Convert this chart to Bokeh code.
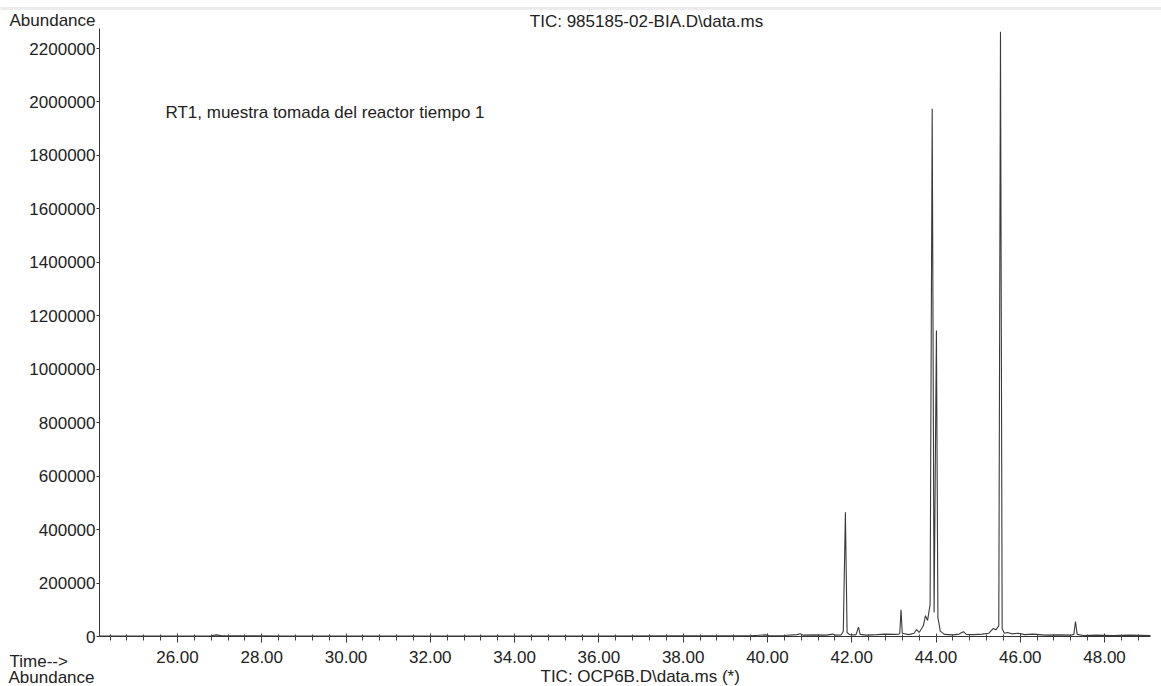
from bokeh.plotting import figure
from bokeh.models import Range1d, FixedTicker, PrintfTickFormatter, Label, LinearAxis, Span
from bokeh.embed import file_html
from bokeh.resources import INLINE

# ---- data (time in min, abundance) ----
time_min = [24.15, 25.50, 26.80, 26.93, 27.05, 28.50, 30.00, 32.00, 34.00, 36.00,
            38.00, 39.60, 39.95, 40.05, 40.40, 40.70, 40.78, 40.85, 41.10, 41.40,
            41.55, 41.62, 41.75, 41.80, 41.85, 41.89, 41.95, 42.10, 42.16, 42.20,
            42.35, 42.60, 42.80, 43.00, 43.12, 43.14, 43.17, 43.20, 43.35, 43.48,
            43.54, 43.60, 43.70, 43.75, 43.80, 43.86, 43.91, 43.955, 44.01, 44.045,
            44.07, 44.10, 44.20, 44.40, 44.55, 44.65, 44.72, 44.90, 45.10, 45.25,
            45.36, 45.42, 45.49, 45.53, 45.57, 45.62, 45.70, 45.80, 45.95, 46.10,
            46.30, 46.60, 46.90, 47.20, 47.27, 47.31, 47.35, 47.50, 47.80, 48.20,
            48.60, 49.09]
abundance = [1500, 2000, 2500, 6000, 2500, 2000, 1500, 1500, 1500, 2000,
             2500, 3000, 6000, 3000, 4000, 7000, 10000, 5000, 6000, 5000,
             9000, 5000, 6000, 20000, 465000, 15000, 7000, 6000, 35000, 8000,
             5000, 7000, 9000, 8000, 9000, 12000, 100000, 12000, 7000, 12000,
             26000, 15000, 40000, 78000, 60000, 120000, 1975000, 90000, 1145000, 70000,
             50000, 20000, 8000, 6000, 9000, 18000, 8000, 7000, 9000, 12000,
             30000, 25000, 40000, 2263000, 30000, 12000, 15000, 10000, 12000, 7000,
             9000, 5000, 6000, 5000, 8000, 56000, 8000, 4000, 5000, 4000,
             5000, 4000]

x_ticks = [26, 28, 30, 32, 34, 36, 38, 40, 42, 44, 46, 48]
x_minor = [24.4 + 0.4 * i for i in range(62)]
y_ticks = [0, 200000, 400000, 600000, 800000, 1000000, 1200000, 1400000,
           1600000, 1800000, 2000000, 2200000]

title_text = "TIC: 985185-02-BIA.D\\data.ms"
note_text = "RT1, muestra tomada del reactor tiempo 1"
bottom_tic_text = "TIC: OCP6B.D\\data.ms (*)"

# ---- layout: frame covers whole canvas, axes drawn at fixed locations ----
W, H = 1161, 686
L, R, T, B = 99, 11, 28, 50          # plot-area edges in canvas pixels
X0, X1 = 24.15, 49.09                # visible time span of the axis
YMAX = 2275000                       # top of the abundance axis
FONT = "Liberation Sans"
FS = "17px"

fw, fh = W - L - R, H - T - B
ppx = (X1 - X0) / fw                 # minutes per pixel
ppy = YMAX / fh                      # abundance per pixel

p = figure(width=W, height=H, output_backend="svg", toolbar_location=None,
           x_range=Range1d(X0 - L * ppx, X1 + R * ppx),
           y_range=Range1d(-B * ppy, YMAX + T * ppy),
           x_axis_location=None, y_axis_location=None,
           min_border=0, min_border_left=0, min_border_right=0,
           min_border_top=0, min_border_bottom=0)
p.outline_line_color = None
p.grid.visible = False
p.background_fill_color = "white"
p.border_fill_color = "white"

# faint scan line along the top edge
p.add_layout(Span(location=YMAX + 20 * ppy, dimension="width",
                  line_color="#ececec", line_width=3))

p.line(time_min, abundance, line_color="#3a3a3a", line_width=1.1)

# x axis
xa = LinearAxis(fixed_location=0, bounds=(X0, X1))
xa.ticker = FixedTicker(ticks=x_ticks, minor_ticks=x_minor)
xa.formatter = PrintfTickFormatter(format="%.2f")
xa.axis_line_color = "#333333"
xa.major_tick_line_color = "#333333"
xa.minor_tick_line_color = "#444444"
xa.major_tick_in = 3
xa.major_tick_out = 6
xa.minor_tick_in = 2
xa.minor_tick_out = 4
xa.major_label_standoff = 8
xa.major_label_text_font = FONT
xa.major_label_text_font_size = FS
xa.major_label_text_color = "#222222"
p.add_layout(xa, "below")

# y axis
ya = LinearAxis(fixed_location=X0, bounds=(0, YMAX))
ya.ticker = FixedTicker(ticks=y_ticks)
ya.formatter = PrintfTickFormatter(format="%d")
ya.axis_line_color = "#333333"
ya.major_tick_line_color = "#333333"
ya.minor_tick_line_color = None
ya.major_tick_in = 0
ya.major_tick_out = 3
ya.major_label_standoff = 1
ya.major_label_text_font = FONT
ya.major_label_text_font_size = FS
ya.major_label_text_color = "#222222"
p.add_layout(ya, "left")


def add_text(txt, px, py, align="left"):
    p.add_layout(Label(x=px, y=py, x_units="canvas", y_units="canvas", text=txt,
                       text_font=FONT, text_font_size=FS, text_color="#222222",
                       text_align=align, text_baseline="middle"))


add_text("Abundance", 9, 20)
add_text(title_text, 646, 21, align="center")
add_text(note_text, 165, 112)
add_text("Time-->", 9, 661)
add_text("Abundance", 8, 677)
add_text(bottom_tic_text, 540, 676)

open("out.html", "w").write(file_html(p, INLINE))
